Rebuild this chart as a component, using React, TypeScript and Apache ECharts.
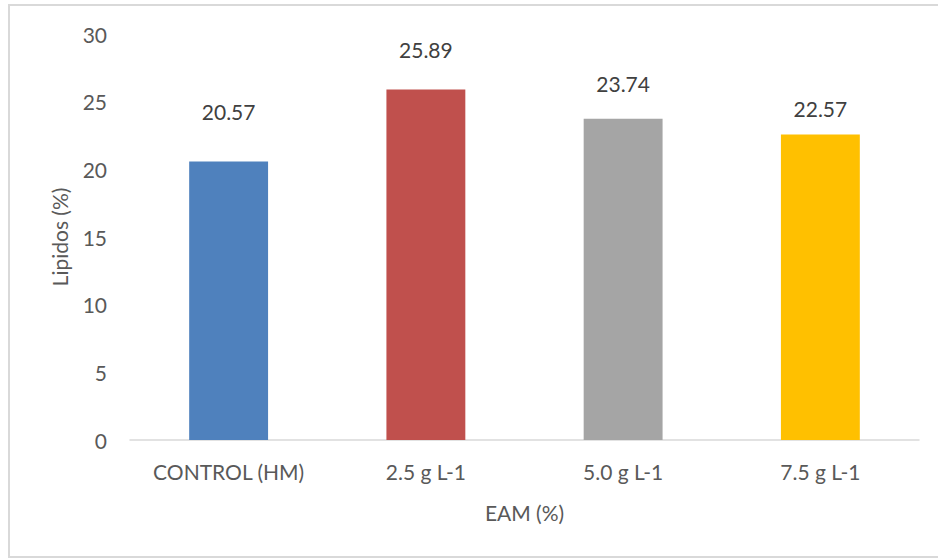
import React, { useEffect, useRef } from "react";
import * as echarts from "echarts";

const categories = ["CONTROL (HM)", "2.5 g L-1", "5.0 g L-1", "7.5 g L-1"];
const lipidValues = [20.57, 25.89, 23.74, 22.57];
const barColors = ["#4F81BD", "#C0504D", "#A5A5A5", "#FFC000"];
const labelGaps = [40, 30, 25, 16];
const yTicks = [0, 5, 10, 15, 20, 25, 30];

const FONT = "Lato, 'Open Sans', sans-serif";
const TEXT = "#595959";

export default function App() {
  const ref = useRef<HTMLDivElement>(null);

  useEffect(() => {
    if (!ref.current) return;
    const chart = echarts.init(ref.current, undefined, { renderer: "svg" });
    chart.setOption({
      animation: false,
      backgroundColor: "#ffffff",
      textStyle: { fontFamily: FONT, color: TEXT },
      graphic: [
        {
          type: "rect",
          shape: { x: 9, y: 5, width: 940, height: 552 },
          style: { fill: "none", stroke: "#D9D9D9", lineWidth: 2 },
          silent: true,
        },
      ],
      grid: { left: 130, right: 19, top: 34, bottom: 119 },
      xAxis: {
        type: "category",
        data: categories,
        name: "EAM (%)",
        nameLocation: "middle",
        nameGap: 62,
        nameTextStyle: { fontSize: 21, color: TEXT, fontFamily: FONT },
        axisLine: { lineStyle: { color: "#D9D9D9", width: 1.5 } },
        axisTick: { show: false },
        axisLabel: { fontSize: 21, color: TEXT, margin: 21, fontFamily: FONT },
      },
      yAxis: {
        type: "value",
        min: yTicks[0],
        max: yTicks[yTicks.length - 1],
        interval: 5,
        name: "Lipidos (%)",
        nameLocation: "middle",
        nameGap: 60,
        nameTextStyle: { fontSize: 21, color: TEXT, fontFamily: FONT },
        axisLine: { show: false },
        axisTick: { show: false },
        splitLine: { show: false },
        axisLabel: { fontSize: 21, color: TEXT, margin: 23, fontFamily: FONT },
      },
      series: [
        {
          type: "bar",
          barWidth: "40%",
          data: lipidValues.map((v, i) => ({
            value: v,
            itemStyle: { color: barColors[i] },
            label: {
              show: true,
              position: "top",
              distance: labelGaps[i],
              formatter: v.toFixed(2),
              fontSize: 21,
              color: "#404040",
              fontFamily: FONT,
            },
          })),
        },
      ],
    });
    return () => chart.dispose();
  }, []);

  return (
    <div
      ref={ref}
      style={{ position: "fixed", left: 0, top: 0, width: 938, height: 559 }}
    />
  );
}
